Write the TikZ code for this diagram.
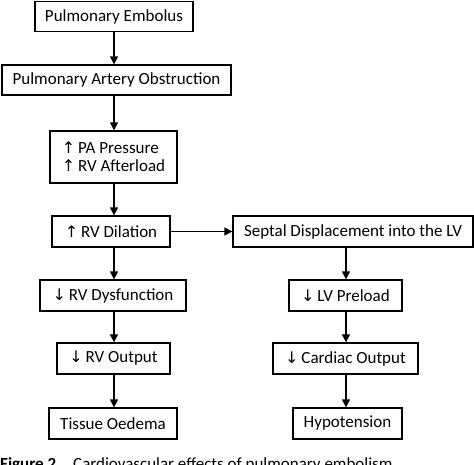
\documentclass[tikz,border=0pt]{standalone}
\usepackage{fontspec}
\setmainfont{Carlito}
\newfontfamily\arrfont{DejaVu Sans}
\usetikzlibrary{arrows.meta}
\newcommand{\upa}{{\arrfont\fontsize{16}{16}\selectfont ↑}\,}
\newcommand{\dna}{{\arrfont\fontsize{16}{16}\selectfont ↓}\,}
\begin{document}
\begin{tikzpicture}[x=1pt,y=-1pt,
  box/.style={draw=black,line width=1.4pt,inner sep=0pt,font=\fontsize{17}{20}\selectfont,align=center},
  link/.style={line width=1.5pt,-{Triangle[length=8pt,width=8pt]}}]
\useasboundingbox (0,0) rectangle (474,464);
\clip (0,0) rectangle (474,464);
\fill[white] (0,0) rectangle (474,464);
% left column
\node[box,minimum width=158pt,minimum height=30pt] (pe) at (114,16.5) {Pulmonary Embolus};
\node[box,minimum width=229pt,minimum height=30pt] (pao) at (116.5,80) {Pulmonary Artery Obstruction};
\node[box,minimum width=127pt,minimum height=52pt,align=left] (pap) at (113.5,157) {\upa PA Pressure\\[-2pt]\upa RV Afterload};
\node[box,minimum width=118pt,minimum height=31pt] (rvd) at (111,231.5) {\upa RV Dilation};
\node[box,minimum width=146pt,minimum height=31pt] (rvf) at (113,295.5) {\dna RV Dysfunction};
\node[box,minimum width=113pt,minimum height=31pt] (rvo) at (113.5,358.5) {\dna RV Output};
\node[box,minimum width=128pt,minimum height=31pt] (to) at (113,423.5) {Tissue Oedema};
% right column
\node[box,minimum width=240pt,minimum height=31pt] (sd) at (353,231.5) {Septal Displacement into the LV};
\node[box,minimum width=113pt,minimum height=31pt] (lvp) at (345.5,295.5) {\dna LV Preload};
\node[box,minimum width=145pt,minimum height=31pt] (co) at (345.5,358.5) {\dna Cardiac Output};
\node[box,minimum width=109pt,minimum height=31pt] (hy) at (347.5,423.5) {Hypotension};
% connectors
\draw[link] (pe.south -| 114,0) -- (pao.north -| 114,0);
\draw[link] (pao.south -| 114,0) -- (pap.north -| 114,0);
\draw[link] (pap.south -| 114,0) -- (rvd.north -| 114,0);
\draw[link] (rvd.south -| 114,0) -- (rvf.north -| 114,0);
\draw[link] (rvf.south -| 114,0) -- (rvo.north -| 114,0);
\draw[link] (rvo.south -| 114,0) -- (to.north -| 114,0);
\draw[link] (rvd.east) -- (sd.west);
\draw[link] (sd.south -| 346,0) -- (lvp.north -| 346,0);
\draw[link] (lvp.south -| 346,0) -- (co.north -| 346,0);
\draw[link] (co.south -| 346,0) -- (hy.north -| 346,0);
% caption (cut off at the bottom edge, as in the reference)
\node[anchor=base west,inner sep=0pt,font=\fontsize{17}{20}\selectfont] (cap) at (0,469) {\textbf{Figure 2}\quad Cardiovascular effects of pulmonary embolism};
\end{tikzpicture}
\end{document}
